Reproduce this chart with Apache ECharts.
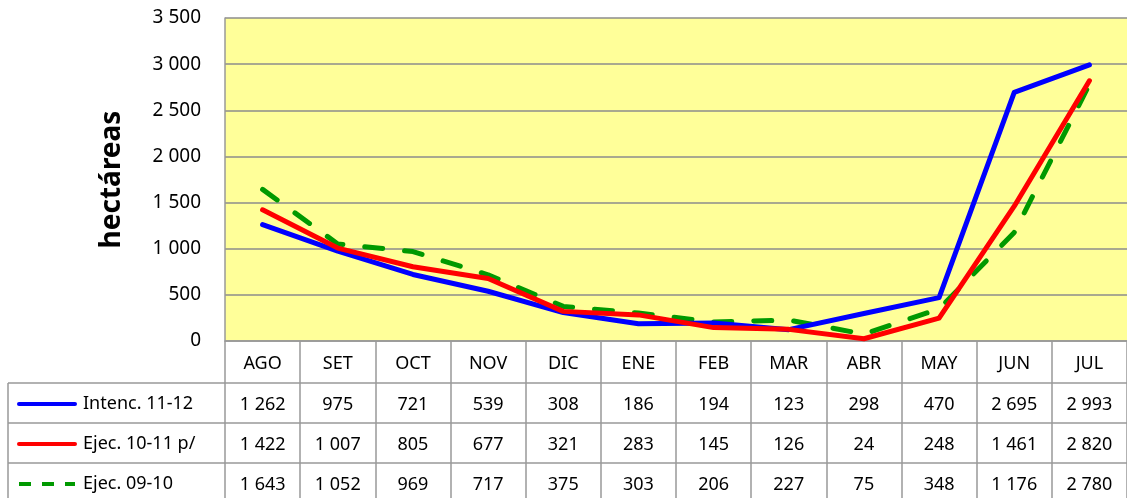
<!DOCTYPE html>
<html>
<head>
<meta charset="utf-8">
<script src="https://cdn.jsdelivr.net/npm/echarts@6/dist/echarts.min.js"></script>
<style>
  html, body { margin: 0; padding: 0; background: #fff; }
  #chart { width: 1127px; height: 498px; }
</style>
</head>
<body>
<div id="chart"></div>
<script>
const months = ["AGO", "SET", "OCT", "NOV", "DIC", "ENE", "FEB", "MAR", "ABR", "MAY", "JUN", "JUL"];
const intenc1112 = [1262, 975, 721, 539, 308, 186, 194, 123, 298, 470, 2695, 2993];
const ejec1011 = [1422, 1007, 805, 677, 321, 283, 145, 126, 24, 248, 1461, 2820];
const ejec0910 = [1643, 1052, 969, 717, 375, 303, 206, 227, 75, 348, 1176, 2780];
const yTicks = { min: 0, max: 3500, interval: 500 };

const FONT = "Noto Sans";
const GRAY = "#999999";

// thousands with a space, like the spreadsheet
const fmt = (v) => String(v).replace(/\B(?=(\d{3})+(?!\d))/g, " ");

const chart = echarts.init(document.getElementById("chart"));

// one extra category axis per table row, stacked below the plot
const rowAxis = (values, offset) => ({
  type: "category",
  data: values.map(fmt),
  position: "bottom",
  offset: offset,
  boundaryGap: true,
  axisLine: { show: true, lineStyle: { color: GRAY, width: 1.5 } },
  axisTick: { show: false },
  axisLabel: { interval: 0, margin: 12, lineHeight: 20, fontSize: 18, color: "#000", fontFamily: FONT },
  splitLine: { show: false }
});

const option = {
  animation: false,
  backgroundColor: "#fff",
  grid: {
    left: 225, right: 0, top: 18, bottom: 157,
    show: true, backgroundColor: "#FFFF99", borderWidth: 0
  },
  legend: {
    orient: "vertical",
    left: 17,
    top: 394,
    height: 140,
    padding: 0,
    itemWidth: 56,
    itemHeight: 20,
    itemGap: 20,
    itemStyle: { opacity: 0 },
    textStyle: { fontSize: 18, lineHeight: 20, color: "#000", fontFamily: FONT, padding: [0, 0, 0, 3] },
    data: [
      { name: "Intenc. 11-12", lineStyle: { width: 4 } },
      { name: "Ejec. 10-11 p/", lineStyle: { width: 4 } },
      { name: "Ejec. 09-10", lineStyle: { width: 4, type: [12, 11], cap: "butt" } }
    ]
  },
  xAxis: [
    {
      type: "category",
      data: months,
      position: "bottom",
      boundaryGap: true,
      axisLine: { show: true, lineStyle: { color: GRAY, width: 1.5 } },
      axisTick: { show: true, inside: false, length: 157, lineStyle: { color: GRAY, width: 1.5 } },
      axisLabel: { interval: 0, margin: 13, lineHeight: 20, fontSize: 18, color: "#000", fontFamily: FONT },
      splitLine: { show: false }
    },
    rowAxis(intenc1112, 42),
    rowAxis(ejec1011, 82),
    rowAxis(ejec0910, 122)
  ],
  yAxis: {
    type: "value",
    min: yTicks.min,
    max: yTicks.max,
    interval: yTicks.interval,
    name: "hectáreas",
    nameLocation: "middle",
    nameRotate: 90,
    nameGap: 99,
    nameTextStyle: { fontSize: 28, fontWeight: "bold", color: "#000", fontFamily: FONT },
    axisLine: { show: true, lineStyle: { color: GRAY, width: 1.5 } },
    axisTick: { show: false },
    axisLabel: { margin: 24, fontSize: 19, color: "#000", fontFamily: FONT, formatter: fmt },
    splitLine: { show: true, lineStyle: { color: "#8c8c8c", width: 1.5 } }
  },
  // legend column borders of the data table
  graphic: [
    { type: "line", shape: { x1: 8, y1: 383, x2: 225, y2: 383 }, style: { stroke: GRAY, lineWidth: 1.5 } },
    { type: "line", shape: { x1: 8, y1: 423, x2: 225, y2: 423 }, style: { stroke: GRAY, lineWidth: 1.5 } },
    { type: "line", shape: { x1: 8, y1: 463, x2: 225, y2: 463 }, style: { stroke: GRAY, lineWidth: 1.5 } },
    { type: "line", shape: { x1: 8, y1: 383, x2: 8, y2: 498 }, style: { stroke: GRAY, lineWidth: 1.5 } }
  ],
  series: [
    {
      name: "Intenc. 11-12",
      type: "line",
      data: intenc1112,
      symbol: "none",
      color: "#0000FF",
      lineStyle: { color: "#0000FF", width: 5, cap: "round", join: "round" },
      z: 3
    },
    {
      name: "Ejec. 10-11 p/",
      type: "line",
      data: ejec1011,
      symbol: "none",
      color: "#FF0000",
      lineStyle: { color: "#FF0000", width: 5, cap: "round", join: "round" },
      z: 4
    },
    {
      name: "Ejec. 09-10",
      type: "line",
      data: ejec0910,
      symbol: "none",
      color: "#009900",
      lineStyle: { color: "#009900", width: 5, type: [18, 22], cap: "round", join: "round" },
      z: 2
    }
  ]
};

chart.setOption(option);
</script>
</body>
</html>
